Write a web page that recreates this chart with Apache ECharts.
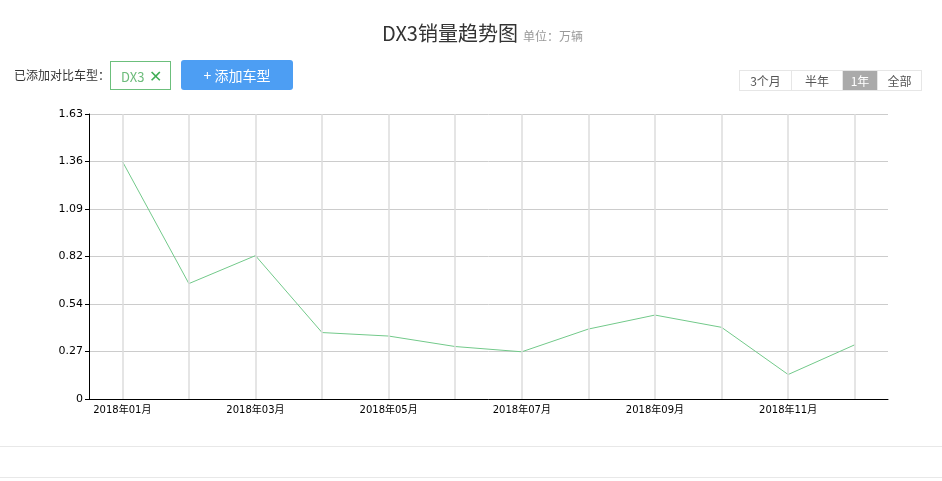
<!DOCTYPE html>
<html>
<head>
<meta charset="utf-8">
<script src="https://cdn.jsdelivr.net/npm/echarts@6/dist/echarts.min.js"></script>
<style>
  html, body { margin: 0; padding: 0; background: #fff; }
  body { width: 942px; height: 481px; position: relative; overflow: hidden; font-family: "Noto Sans CJK SC", "Noto Sans", sans-serif; }
  #chart { position: absolute; left: 0; top: 0; width: 942px; height: 481px; }
  .ui { position: absolute; box-sizing: border-box; }
  #lbl { left: 14px; top: 66px; font-size: 12px; color: #333; line-height: 18px; }
  #tag { left: 110px; top: 61px; width: 61px; height: 29px; border: 1px solid #6cbf7c; color: #6cbb7a; font-size: 13px; line-height: 27px; padding-left: 10px; }
  #tag span { color: #3fae55; font-size: 16px; margin-left: 5px; }
  #add { left: 181px; top: 60px; width: 112px; height: 30px; background: #4d9ef3; border-radius: 3px; color: #fff; font-size: 14px; line-height: 30px; text-align: center; }
  #seg { left: 739px; top: 70px; height: 21px; border: 1px solid #e6e6e6; display: flex; font-size: 12px; color: #555; }
  #seg div { line-height: 19px; text-align: center; border-right: 1px solid #e6e6e6; }
  #seg div:last-child { border-right: none; }
  #seg .on { background: #aaa; color: #fff; }
  .hr { position: absolute; left: 0; width: 942px; height: 1px; background: #e8e8e8; }
</style>
</head>
<body>
<div id="chart"></div>
<div class="ui" id="lbl">已添加对比车型：</div>
<div class="ui" id="tag">DX3<span>✕</span></div>
<div class="ui" id="add">+ 添加车型</div>
<div class="ui" id="seg">
  <div style="width:51px">3个月</div>
  <div style="width:50px">半年</div>
  <div class="on" style="width:34px">1年</div>
  <div style="width:43px">全部</div>
</div>
<div class="hr" style="top:446px"></div>
<div class="hr" style="top:477px"></div>
<script>
const months = ['2018年01月','2018年02月','2018年03月','2018年04月','2018年05月','2018年06月','2018年07月','2018年08月','2018年09月','2018年10月','2018年11月','2018年12月'];
const sales = [1.36, 0.66, 0.82, 0.38, 0.36, 0.30, 0.27, 0.40, 0.48, 0.41, 0.14, 0.31];
const yTickLabels = ['0','0.27','0.54','0.82','1.09','1.36','1.63'];
const yMax = 1.63;

const chart = echarts.init(document.getElementById('chart'));
chart.setOption({
  animation: false,
  title: {
    text: '{a|DX3销量趋势图} {b|单位：万辆}',
    left: 377,
    top: 18,
    textStyle: {
      rich: {
        a: { fontSize: 20, fontWeight: 'normal', color: '#333', fontFamily: '"Noto Sans CJK SC", sans-serif' },
        b: { fontSize: 12, fontWeight: 'normal', color: '#999', fontFamily: '"Noto Sans CJK SC", sans-serif', padding: [6, 0, 0, 0] }
      }
    }
  },
  grid: { left: 89, right: 54, top: 114, bottom: 82, containLabel: false },
  xAxis: {
    type: 'category',
    data: months,
    boundaryGap: true,
    axisLine: { lineStyle: { color: '#000', width: 1 } },
    axisTick: { alignWithLabel: true, interval: 0, length: 4, lineStyle: { color: '#000' } },
    axisLabel: { interval: 1, fontSize: 10, color: '#000', fontFamily: '"DejaVu Sans", "Noto Sans CJK SC", sans-serif', margin: 6 },
    splitLine: { show: false }
  },
  yAxis: {
    type: 'value',
    min: 0,
    max: yMax,
    interval: yMax / 6,
    axisLine: { show: true, lineStyle: { color: '#000', width: 1 } },
    axisTick: { show: true, length: 4, lineStyle: { color: '#000' } },
    axisLabel: {
      fontSize: 11, color: '#000', margin: 6,
      fontFamily: '"DejaVu Sans", sans-serif',
      formatter: function (v) { return yTickLabels[Math.round(v / (yMax / 6))]; }
    },
    splitLine: { show: true, lineStyle: { color: '#ccc', width: 1 } }
  },
  series: [{
    type: 'line',
    name: 'DX3',
    data: sales,
    symbol: 'none',
    z: 3,
    lineStyle: { color: '#72c98a', width: 1 },
    itemStyle: { color: '#72c98a' },
    markLine: {
      silent: true,
      symbol: 'none',
      label: { show: false },
      animation: false,
      lineStyle: { color: '#ddd', width: 1.5, type: 'solid' },
      emphasis: { disabled: true },
      data: months.map(function (m) { return { xAxis: m }; })
    }
  }]
});
</script>
</body>
</html>
